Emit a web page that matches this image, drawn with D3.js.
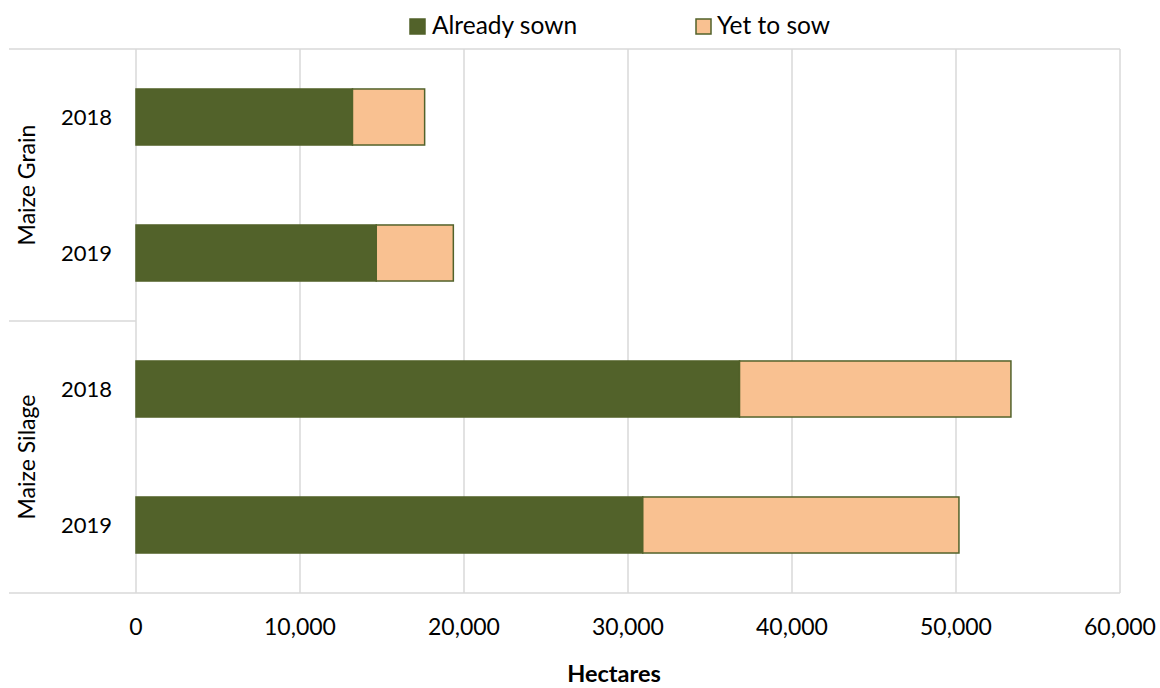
<!DOCTYPE html>
<html>
<head>
<meta charset="utf-8">
<script src="https://cdn.jsdelivr.net/npm/d3@7"></script>
<style>
  html, body { margin: 0; padding: 0; background: #fff; }
  svg { display: block; font-family: Lato, "Open Sans", sans-serif; }
</style>
</head>
<body>
<svg id="chart" width="1160" height="688"></svg>
<script>
const groups = ["Maize Grain", "Maize Grain", "Maize Silage", "Maize Silage"];
const years = ["2018", "2019", "2018", "2019"];
const alreadySown = [13200, 14650, 36800, 30900];
const yetToSow = [4400, 4700, 16550, 19280];
const seriesNames = ["Already sown", "Yet to sow"];
const xTicks = [0, 10000, 20000, 30000, 40000, 50000, 60000];

const colors = { green: "#52622A", peach: "#F9C191", grid: "#D9D9D9" };

const svg = d3.select("#chart");
const plotLeft = 136, plotRight = 1120, plotTop = 49, plotBottom = 593;

const rows = years.map((yr, i) => ({ id: i, group: groups[i], year: yr, a: alreadySown[i], b: yetToSow[i] }));

const x = d3.scaleLinear().domain([0, 60000]).range([plotLeft, plotRight]);
const y = d3.scaleBand().domain(rows.map(d => d.id)).range([plotTop, plotBottom])
  .paddingInner(0.588).paddingOuter(0.294);

// gridlines
svg.append("g").selectAll("line").data(xTicks).join("line")
  .attr("x1", d => x(d)).attr("x2", d => x(d))
  .attr("y1", plotTop).attr("y2", plotBottom)
  .attr("stroke", colors.grid).attr("stroke-width", 1.5);

// frame lines
const frame = svg.append("g").attr("stroke", colors.grid).attr("stroke-width", 1.5);
frame.append("line").attr("x1", 9).attr("x2", plotRight).attr("y1", plotTop).attr("y2", plotTop);
frame.append("line").attr("x1", 9).attr("x2", plotRight).attr("y1", plotBottom).attr("y2", plotBottom);

// group separators
const groupNames = Array.from(new Set(groups));
const groupExtents = groupNames.map(g => {
  const ids = rows.filter(r => r.group === g).map(r => r.id);
  const y0 = y(ids[0]) - y.step() * y.paddingInner() / 2;
  const y1 = y(ids[ids.length - 1]) + y.bandwidth() + y.step() * y.paddingInner() / 2;
  return { g, y0, y1 };
});
groupExtents.slice(1).forEach(e => {
  frame.append("line").attr("x1", 9).attr("x2", plotLeft).attr("y1", e.y0).attr("y2", e.y0);
});

// bars
const bars = svg.append("g");
bars.selectAll("rect.a").data(rows).join("rect").attr("class", "a")
  .attr("x", x(0)).attr("y", d => y(d.id))
  .attr("width", d => x(d.a) - x(0)).attr("height", y.bandwidth())
  .attr("fill", colors.green).attr("stroke", colors.green).attr("stroke-width", 1.5);
bars.selectAll("rect.b").data(rows).join("rect").attr("class", "b")
  .attr("x", d => x(d.a)).attr("y", d => y(d.id))
  .attr("width", d => x(d.a + d.b) - x(d.a)).attr("height", y.bandwidth())
  .attr("fill", colors.peach).attr("stroke", colors.green).attr("stroke-width", 1.5);

// x tick labels
svg.append("g").selectAll("text").data(xTicks).join("text")
  .attr("x", d => x(d)).attr("y", 635)
  .attr("text-anchor", "middle").attr("font-size", 23).attr("fill", "#000")
  .text(d => d3.format(",")(d));

// year labels
svg.append("g").selectAll("text").data(rows).join("text")
  .attr("x", 112).attr("y", d => y(d.id) + y.bandwidth() / 2)
  .attr("dy", "0.36em")
  .attr("text-anchor", "end").attr("font-size", 22).attr("fill", "#000")
  .text(d => d.year);

// group labels
svg.append("g").selectAll("text").data(groupExtents).join("text")
  .attr("transform", d => `translate(35,${(d.y0 + d.y1) / 2}) rotate(-90)`)
  .attr("text-anchor", "middle").attr("font-size", 23).attr("fill", "#000")
  .text(d => d.g);

// axis title
svg.append("text").attr("x", 614).attr("y", 682)
  .attr("text-anchor", "middle").attr("font-size", 23.5).attr("font-weight", "bold")
  .attr("fill", "#000").text("Hectares");

// legend
const legendItems = [
  { name: seriesNames[0], fill: colors.green, sx: 410, tx: 432 },
  { name: seriesNames[1], fill: colors.peach, sx: 696, tx: 717 }
];
const lg = svg.append("g");
legendItems.forEach(it => {
  lg.append("rect").attr("x", it.sx).attr("y", 19).attr("width", 15).attr("height", 15)
    .attr("fill", it.fill).attr("stroke", colors.green).attr("stroke-width", 1.5);
  lg.append("text").attr("x", it.tx).attr("y", 34)
    .attr("font-size", 24.5).attr("fill", "#000").text(it.name);
});
</script>
</body>
</html>
